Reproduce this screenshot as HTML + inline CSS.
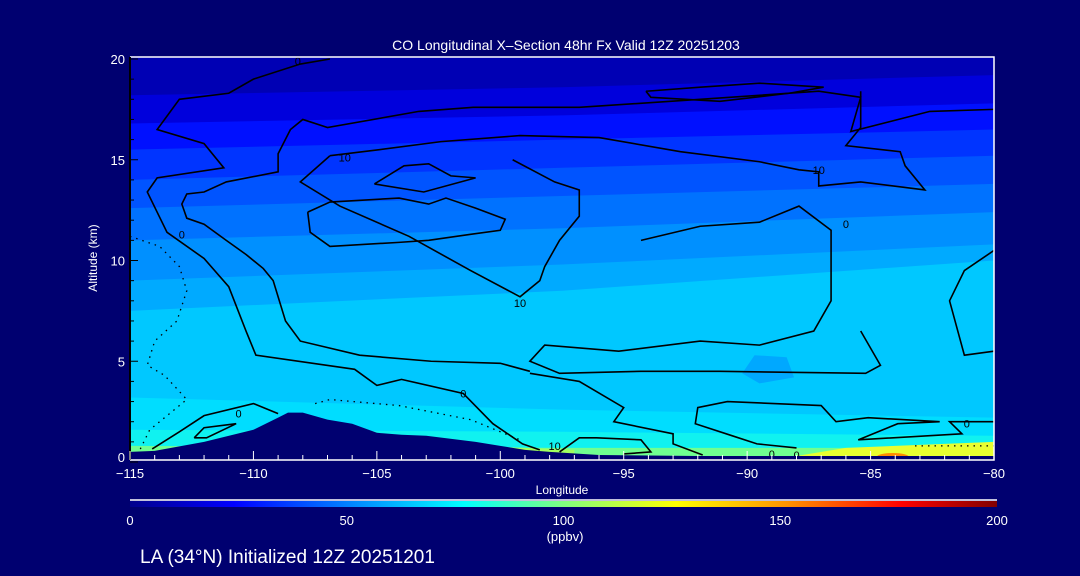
<!DOCTYPE html>
<html><head><meta charset="utf-8">
<style>
html,body{margin:0;padding:0;background:#000070;}
svg{display:block;}
text{font-family:"Liberation Sans",sans-serif;fill:#fff;}
</style></head>
<body>
<svg id="chart" width="1080" height="576" viewBox="0 0 1080 576" xmlns="http://www.w3.org/2000/svg">
<defs>
<linearGradient id="cbar" x1="0" x2="1" y1="0" y2="0">
<stop offset="0" stop-color="#00008c"/><stop offset="0.12" stop-color="#0000ff"/>
<stop offset="0.25" stop-color="#0080ff"/><stop offset="0.385" stop-color="#00ffff"/>
<stop offset="0.5" stop-color="#80ff80"/><stop offset="0.63" stop-color="#ffff00"/>
<stop offset="0.76" stop-color="#ff9000"/><stop offset="0.89" stop-color="#ff0000"/>
<stop offset="1" stop-color="#800000"/>
</linearGradient>
<clipPath id="plotclip"><rect x="130" y="57" width="864" height="403"/></clipPath>
</defs>
<g id="plot" clip-path="url(#plotclip)"></g>
<g id="axes"></g>
<text x="566" y="50" font-size="14" text-anchor="middle">CO Longitudinal X–Section 48hr  Fx Valid 12Z 20251203</text>
<text x="97" y="258" font-size="12" text-anchor="middle" transform="rotate(-90 97 258)">Altitude (km)</text>
<text x="562" y="494" font-size="12" text-anchor="middle">Longitude</text>
<line x1="130" y1="500" x2="997" y2="500" stroke="#fff" stroke-width="1.5"/>
<rect x="130" y="501" width="867" height="6" fill="url(#cbar)"/>
<g id="cbticks"></g>
<text x="565" y="541" font-size="13" text-anchor="middle">(ppbv)</text>
<text x="140" y="563" font-size="19">LA (34°N) Initialized 12Z 20251201</text>
</svg>
<script>
// ---- data ----
const bandLons = [-115, -97.5, -80];
const bandBounds = [
  [20.5, 20.5, 20.5],
  [18.2, 18.6, 19.2],
  [16.8, 17.2, 17.8],
  [15.5, 16.0, 16.5],
  [14.0, 14.6, 15.2],
  [12.6, 13.2, 13.8],
  [11.0, 11.6, 12.4],
  [9.0, 9.8, 10.8],
  [7.5, 8.5, 10.0],
  [3.2, 2.6, 2.2],
  [1.6, 1.5, 1.3],
  [0.8, 0.7, 0.7]
];
const bandColors = ["#0000b4","#0000dc","#0010ff","#0034ff","#0054ff","#0072ff","#0090ff","#00aaff","#00c8ff","#00ddff","#10f2f0","#70ff90"];
const terrainLon = [-115,-114,-112,-110,-109,-108.6,-108,-107,-106,-105,-104,-103,-101,-100,-99,-98,-96,-92,-80];
const terrainAlt = [0.5,0.55,1.0,1.6,2.2,2.45,2.45,2.1,1.9,1.45,1.35,1.3,1.0,0.8,0.6,0.5,0.35,0.3,0.3];
const contours = [
  {lon:[-106.9,-108.1,-110.0,-111.0,-113.0,-113.9,-112.0,-111.2,-113.9,-114.3,-113.5,-112.0,-111.0,-110.3,-109.9,-105.9,-105.0,-104.0,-101.5,-100.3,-99.1,-98.4],
   alt:[20.0,19.75,19.0,18.3,18.0,16.5,15.8,14.6,14.1,13.4,11.4,10.1,8.7,6.5,5.3,4.6,3.8,4.1,3.4,1.9,0.9,0.6]},
  {lon:[-80,-82.6,-85.8,-85.4,-87.1,-91.9,-96.8,-101.1,-103.3,-107.0,-108.0,-108.5,-109.0,-109.0,-111.1,-112.0,-112.7,-112.9,-112.7,-112.0,-111.1,-110.3,-109.6,-109.2,-108.7,-108.1,-105.7,-102.8,-100.0,-98.8],
   alt:[17.5,17.4,16.4,18.1,18.4,18.0,17.6,17.6,17.4,16.6,17.0,16.5,15.3,14.4,13.9,13.4,13.3,12.8,12.1,11.8,11.0,10.3,9.6,9.0,7.0,6.0,5.3,5.0,4.9,4.5]},
  {lon:[-107.8,-106.9,-104.1,-102.9,-102.2,-101.0,-99.8,-100.0,-101.2,-102.9,-104.1,-106.9,-107.7,-107.8],
   alt:[12.4,12.9,13.1,12.8,13.1,12.6,12.05,11.5,11.3,11.0,10.9,10.7,11.4,12.4]},
  {lon:[-105.1,-103.9,-102.9,-102.0,-101.0,-103.1,-105.1],
   alt:[13.8,14.7,14.8,14.2,14.1,13.4,13.8]},
  {lon:[-94.1,-91.9,-89.5,-86.9,-88.3,-91.1,-93.9,-94.1],
   alt:[18.4,18.6,18.8,18.6,18.3,17.9,18.1,18.4]},
  {lon:[-106.9,-104.9,-102.4,-99.2,-96.0,-92.7,-89.5,-87.9,-87.1,-87.1,-85.4,-82.8,-83.6,-83.8,-86.0,-85.4,-85.4],
   alt:[15.2,15.5,15.9,16.2,16.1,15.4,14.9,14.5,14.4,13.7,13.9,13.5,14.7,15.4,15.7,16.6,18.4]},
  {lon:[-106.9,-108.1,-106.5,-103.7,-101.2,-99.2,-98.4,-98.2,-97.6,-96.8,-96.8,-97.8,-99.5],
   alt:[15.2,13.9,12.7,11.2,9.5,8.2,9.0,9.7,11.0,12.2,13.5,13.9,15.0]},
  {lon:[-94.3,-91.9,-89.5,-87.9,-86.6,-86.6,-87.3,-89.5,-91.9,-95.2,-98.2,-98.8,-97.6,-94.3,-91.1,-85.2,-84.6,-85.4],
   alt:[11.0,11.7,11.9,12.7,11.5,8.0,6.5,5.8,6.0,5.5,5.8,5.0,4.4,4.5,4.5,4.4,4.8,6.5]},
  {lon:[-80,-81.2,-81.8,-81.2,-80], alt:[10.5,9.5,8.0,5.3,5.5]},
  {lon:[-88.0,-89.6,-90.6,-92.1,-92.0,-90.8,-87.0,-86.4,-85.1,-82.2,-83.9,-85.5,-81.3,-81.8,-80.0],
   alt:[0.7,0.9,1.3,1.9,2.7,3.0,2.8,2.0,2.2,2.0,1.9,1.1,1.4,2.0,2.0]},
  {lon:[-98.8,-96.8,-95.0,-95.4,-93.0,-93.0,-91.8], alt:[4.4,4.0,2.7,2.0,1.4,0.9,0.35]},
  {lon:[-97.6,-96.8,-96.1,-94.3,-93.9,-95.0], alt:[0.5,1.2,1.2,1.1,0.5,0.4]},
  {lon:[-114.1,-113.0,-112.0,-110.0,-109.0], alt:[0.65,1.5,2.3,2.9,2.4]},
  {lon:[-112.4,-112.0,-110.7,-111.9,-112.4], alt:[1.2,1.7,1.9,1.2,1.2]}
];
const dotted = [
  {lon:[-115,-113.8,-113.0,-112.7,-113.1,-114.0,-114.3,-113.6,-112.7,-113.2,-114.2,-114.6], alt:[11.2,10.7,9.7,8.5,7.0,6.0,4.8,4.3,3.1,2.6,1.6,0.6]},
  {lon:[-107.5,-106.9,-104.1,-101.2,-99.2], alt:[2.9,3.1,2.8,2.1,1.1]},
  {lon:[-83.2,-80], alt:[0.8,0.8]}
];
const labelLon = [-108.2,-106.3,-112.9,-101.5,-99.2,-87.1,-88.0,-81.1,-86.0,-89.0,-97.8,-110.6];
const labelAlt = [19.9,15.1,11.3,3.4,7.9,14.5,0.35,1.9,11.8,0.4,0.8,2.4];
const labelTxt = ["0","10","0","0","10","10","0","0","0","0","10","0"];
const xTicks = [-115,-110,-105,-100,-95,-90,-85,-80];
const yTicks = [0,5,10,15,20];
const cbTicks = [0,50,100,150,200];

// ---- axes ----
const X = lon => 130 + (lon + 115) * 864 / 35;
const Y = alt => 462 - alt * 20.15;
const NS = "http://www.w3.org/2000/svg";
function mk(tag, attrs, parent){const e=document.createElementNS(NS,tag);for(const k in attrs)e.setAttribute(k,attrs[k]);parent.appendChild(e);return e;}
const plot = document.getElementById("plot");
const axes = document.getElementById("axes");

mk("rect",{x:130,y:57,width:864,height:403,fill:"#0000b4"},plot);
for(let i=0;i<bandBounds.length;i++){
  const top=bandBounds[i];
  let pts=bandLons.map((l,j)=>X(l)+","+Y(top[j]));
  pts.push(X(-80)+","+Y(0)); pts.push(X(-115)+","+Y(0));
  const p=mk("polygon",{points:pts.join(" "),fill:bandColors[i]},plot);
  
  
}
const hot1 = mk("polygon",{points:[[-88,0.3],[-86,0.7],[-83,0.85],[-80,1.0],[-80,0.3]].map(d=>X(d[0])+","+Y(d[1])).join(" "),fill:"#e8ff30"},plot);


const hot2 = mk("ellipse",{cx:X(-84.1),cy:Y(0.25),rx:16,ry:4,fill:"#ff8a00"},plot);


const hot3 = mk("polygon",{points:[[-113.5,0.6],[-110,1.3],[-108.5,2.0],[-101,0.8],[-97,0.6],[-97,0.3],[-115,0.3]].map(d=>X(d[0])+","+Y(d[1])).join(" "),fill:"#a0ff60"},plot);


const blob = mk("polygon",{points:[[-89.7,5.3],[-88.4,5.2],[-88.1,4.2],[-89.5,3.9],[-90.2,4.4]].map(d=>X(d[0])+","+Y(d[1])).join(" "),fill:"#00a8ff"},plot);



contours.forEach(c=>{
  const pl=mk("polyline",{points:c.lon.map((l,j)=>X(l)+","+Y(c.alt[j])).join(" "),fill:"none",stroke:"#000",'stroke-width':1.6},plot);
  
  
});
dotted.forEach(c=>{
  const pl=mk("polyline",{points:c.lon.map((l,j)=>X(l)+","+Y(c.alt[j])).join(" "),fill:"none",stroke:"#000",'stroke-width':1.3,'stroke-dasharray':"1.5 5"},plot);
  
  
});
labelTxt.forEach((t,i)=>{
  const e=mk("text",{x:X(labelLon[i]),y:Y(labelAlt[i])+4,'font-size':11,'text-anchor':'middle',style:"fill:#000"},plot);
  e.textContent=t;
  
  
});
let tp=terrainLon.map((l,j)=>X(l)+","+Y(terrainAlt[j]));
tp.push(X(-80)+","+470); tp.push(X(-115)+","+470);
const terr=mk("polygon",{points:tp.join(" "),fill:"#000070"},plot);



const frame=mk("path",{d:"M130,57 H994 V460 H130",fill:"none",stroke:"#fff",'stroke-width':1.5},axes);


const lax=mk("line",{x1:130,y1:57,x2:130,y2:460,stroke:"#000",'stroke-width':2},axes);


for(let l=-115;l<=-80;l++){
  const major=(l%5===0);
  const t=mk("line",{x1:X(l),x2:X(l),y1:460,y2:major?451:455,stroke:"#fff",'stroke-width':1},axes);
  
  
}
xTicks.forEach(l=>{
  const e=mk("text",{x:X(l),y:478,'font-size':13,'text-anchor':'middle'},axes);
  e.textContent=(l<0?"\u2212"+(-l):l);
  
  
});
for(let a=0;a<=20;a++){
  const major=(a%5===0);
  const t=mk("line",{x1:130,x2:major?138:134,y1:Y(a),y2:Y(a),stroke:"#000",'stroke-width':1},axes);
  
  
}
yTicks.forEach(a=>{
  const e=mk("text",{x:125,y:Math.min(Y(a),457)+5,'font-size':13,'text-anchor':'end'},axes);
  e.textContent=a;
  
  
});
const cb=document.getElementById("cbticks");
cbTicks.forEach(v=>{
  const e=mk("text",{x:130+v*867/200,y:525,'font-size':13,'text-anchor':'middle'},cb);
  e.textContent=v;
  
  
});
</script>
</body></html>
